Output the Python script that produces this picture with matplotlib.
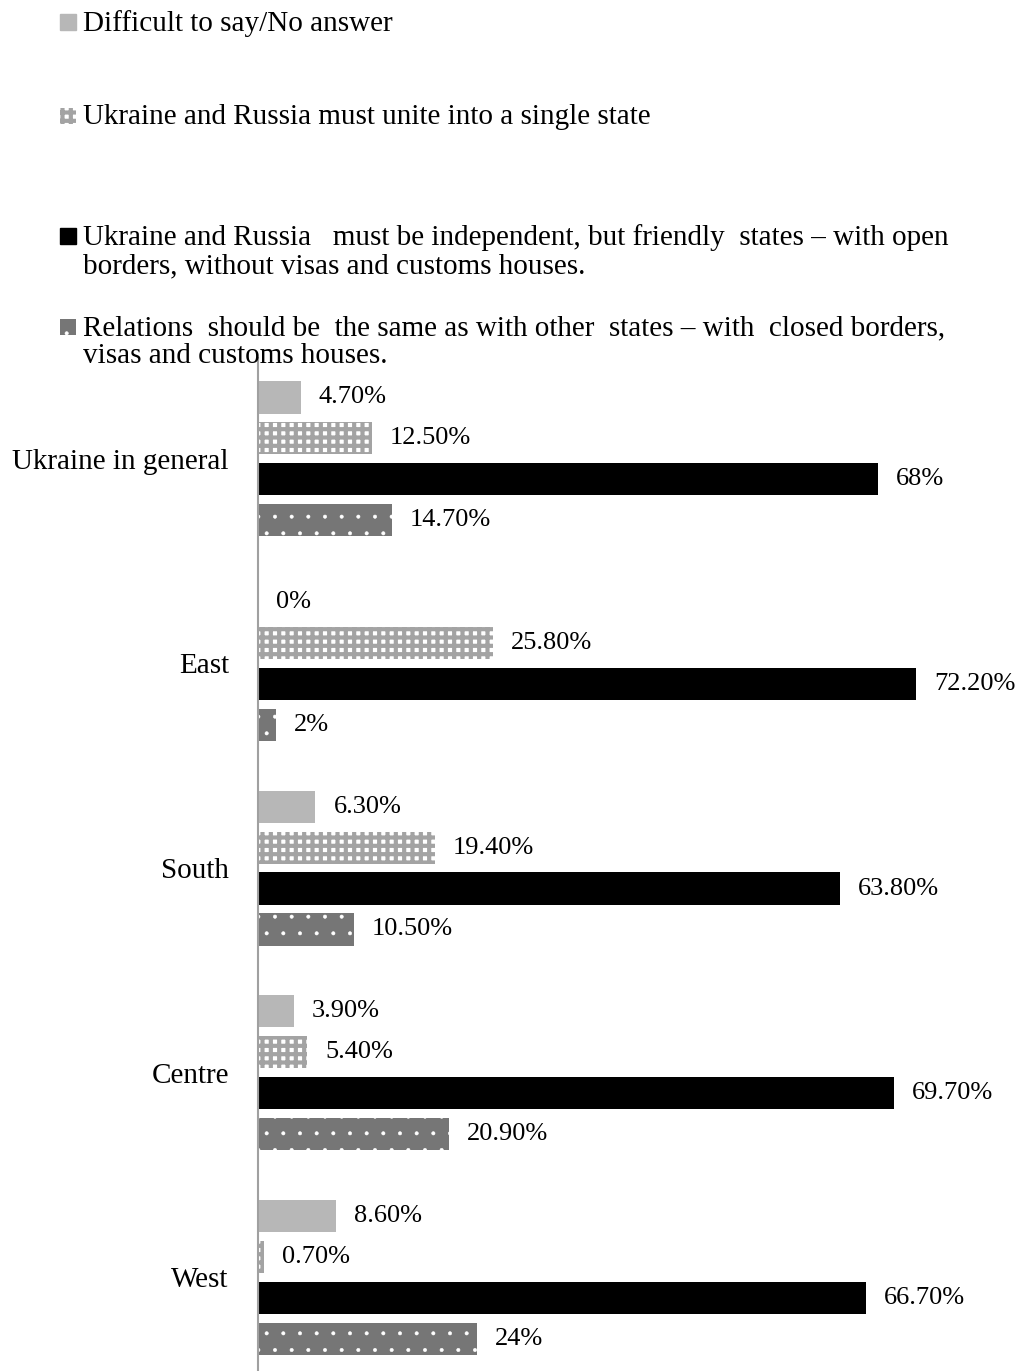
import matplotlib
matplotlib.use("Agg")
import matplotlib.pyplot as plt
from matplotlib.patches import Rectangle

plt.rcParams['font.family'] = ['Liberation Serif', 'DejaVu Serif']

# categories (top to bottom) and series
regions = ["Ukraine in general", "East", "South", "Centre", "West"]
series_names = [
    "Difficult to say/No answer",
    "Ukraine and Russia must unite into a single state",
    "Ukraine and Russia   must be independent, but friendly  states \u2013 with open\nborders, without visas and customs houses.",
    "Relations  should be  the same as with other  states \u2013 with  closed borders,\nvisas and customs houses.",
]
no_answer = [4.7, 0, 6.3, 3.9, 8.6]
unite = [12.5, 25.8, 19.4, 5.4, 0.7]
friendly = [68, 72.2, 63.8, 69.7, 66.7]
closed = [14.7, 2, 10.5, 20.9, 24]
no_answer_lbl = ["4.70%", "0%", "6.30%", "3.90%", "8.60%"]
unite_lbl = ["12.50%", "25.80%", "19.40%", "5.40%", "0.70%"]
friendly_lbl = ["68%", "72.20%", "63.80%", "69.70%", "66.70%"]
closed_lbl = ["14.70%", "2%", "10.50%", "20.90%", "24%"]

styles = [
    dict(color="#b7b7b7"),
    dict(facecolor="white", edgecolor="#a3a3a3", hatch="++", linewidth=0),
    dict(color="black"),
    dict(facecolor="#767676", edgecolor="white", hatch=".", linewidth=0),
]
hatch_lw = [1.0, 3.0, 1.0, 0.4]

fig = plt.figure(figsize=(10.17, 13.71), dpi=100)
ax = fig.add_axes([258 / 1017, 0, 1 - 258 / 1017, 1013 / 1371])

all_vals = [no_answer, unite, friendly, closed]
all_lbls = [no_answer_lbl, unite_lbl, friendly_lbl, closed_lbl]
offsets = [-0.3, -0.1, 0.1, 0.3]
for vals, lbls, off, st, hl in zip(all_vals, all_lbls, offsets, styles, hatch_lw):
    plt.rcParams['hatch.linewidth'] = hl
    ys = [i + off for i in range(len(regions))]
    ax.barh(ys, vals, height=0.157, **st)
    for y, v, t in zip(ys, vals, lbls):
        ax.annotate(t, (v, y), xytext=(13, 0), textcoords="offset points",
                    va="center", ha="left", fontsize=19)

ax.set_xlim(0, (1017 - 258) / 9.12)
ax.set_ylim(4.458, -0.493)
ax.set_yticks(range(len(regions)))
ax.set_yticklabels(regions, fontsize=21)
ax.tick_params(axis="y", length=0, pad=21)
ax.set_xticks([])
for s in ["top", "right", "bottom"]:
    ax.spines[s].set_visible(False)
ax.spines["left"].set_color("#a0a0a0")
ax.spines["left"].set_linewidth(1.5)

# legend drawn by hand at the top
leg_y = [22, 116, 236, 327]
for y, name, st, hl in zip(leg_y, series_names, styles, hatch_lw):
    plt.rcParams['hatch.linewidth'] = hl
    sq = Rectangle((60 / 1017, 1 - (y + 8) / 1371), 16 / 1017, 16 / 1371,
                   transform=fig.transFigure, **st)
    fig.add_artist(sq)
    fig.text(83 / 1017, 1 - (y - 12) / 1371, name, fontsize=21, va="top",
             ha="left", linespacing=1.1)

fig.savefig("out.png", dpi=100)
